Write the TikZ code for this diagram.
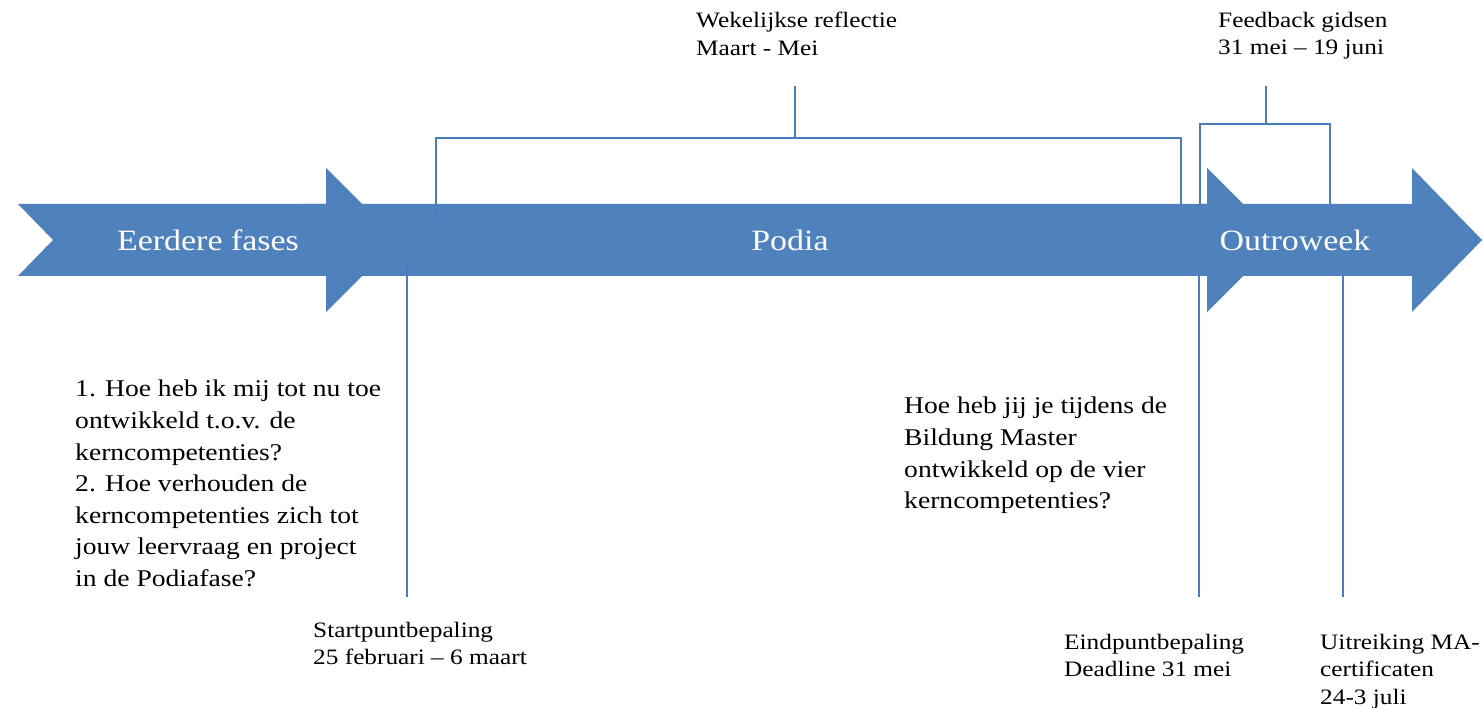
\documentclass[tikz,border=0pt]{standalone}
\usepackage{fontspec}
\setmainfont{Liberation Serif}[FakeStretch=1.15]
\usetikzlibrary{positioning,calc}
\definecolor{phaseblue}{RGB}{79,129,189}
\definecolor{lineblue}{RGB}{74,126,187}
\tikzset{
  phasefill/.style  = {fill=phaseblue},
  phaselabel/.style = {text=white, anchor=base, inner sep=0pt,
                       font=\fontsize{29.5}{35}\selectfont},
  question/.style   = {anchor=north west, align=left, inner sep=0pt,
                       font=\fontsize{24}{31.6}\selectfont},
  datelabel/.style  = {anchor=north west, align=left, inner sep=0pt,
                       font=\fontsize{22}{27.5}\selectfont},
  guide/.style      = {draw=lineblue, line width=2pt},
}

\begin{document}
\begin{tikzpicture}[x=1pt, y=-1pt]
        \useasboundingbox (0,0) rectangle (1483,708);

        % phase arrows
        \fill[phasefill] (18,204) -- (326,204) -- (326,168) -- (398,240) -- (326,312)
              -- (326,276) -- (18,276) -- (53,240) -- cycle;
        \fill[phasefill] (303,204) -- (1207,204) -- (1207,168) -- (1279,240) -- (1207,312)
              -- (1207,276) -- (303,276) -- cycle;
        \fill[phasefill] (1200,204) -- (1412,204) -- (1412,168) -- (1482,240) -- (1412,312)
              -- (1412,276) -- (1200,276) -- cycle;
        \node[phaselabel] (eerder) at (208,251) {Eerdere fases};
        \node[phaselabel] (podia)  at (790,251) {Podia};
        \node[phaselabel] (outro)  at (1295,251) {Outroweek};

        % brackets above the timeline
        \coordinate (wekL)   at (436,220);
        \coordinate (wekR)   at (1181,204);
        \coordinate (wekTop) at (795,138);
        \draw[guide] (wekL) |- (wekTop) -| (wekR);
        \draw[guide] (wekTop) -- ++(0,-52);
        \coordinate (fbL)   at (1200,204);
        \coordinate (fbR)   at (1330,204);
        \coordinate (fbTop) at (1266,124);
        \draw[guide] (fbL) |- (fbTop) -| (fbR);
        \draw[guide] (fbTop) -- ++(0,-38);

        % markers below the timeline
        \foreach \x/\y in {407/262, 1199/276, 1343/276}
            \draw[guide] (\x,\y) -- (\x,597);

        % labels
        \node[datelabel] (wekelijks) at (696,12) {Wekelijkse reflectie\\Maart - Mei};
        \node[datelabel] (feedback) at (1218,12) {Feedback gidsen\\31 mei – 19 juni};
        \node[question] (vraag1) at (75,380) {1. Hoe heb ik mij tot nu toe\\ontwikkeld t.o.v. de\\kerncompetenties?\\2. Hoe verhouden de\\kerncompetenties zich tot\\jouw leervraag en project\\in de Podiafase?};
        \node[question] (vraag2) at (904,397) {Hoe heb jij je tijdens de\\Bildung Master\\ontwikkeld op de vier\\kerncompetenties?};
        \node[datelabel] (start) at (313,622) {Startpuntbepaling\\25 februari – 6 maart};
        \node[datelabel] (eind) at (1064,634) {Eindpuntbepaling\\Deadline 31 mei};
        \node[datelabel] (uitreiking) at (1320,634) {Uitreiking MA-\\certificaten\\24-3 juli};
    \end{tikzpicture}
\end{document}
